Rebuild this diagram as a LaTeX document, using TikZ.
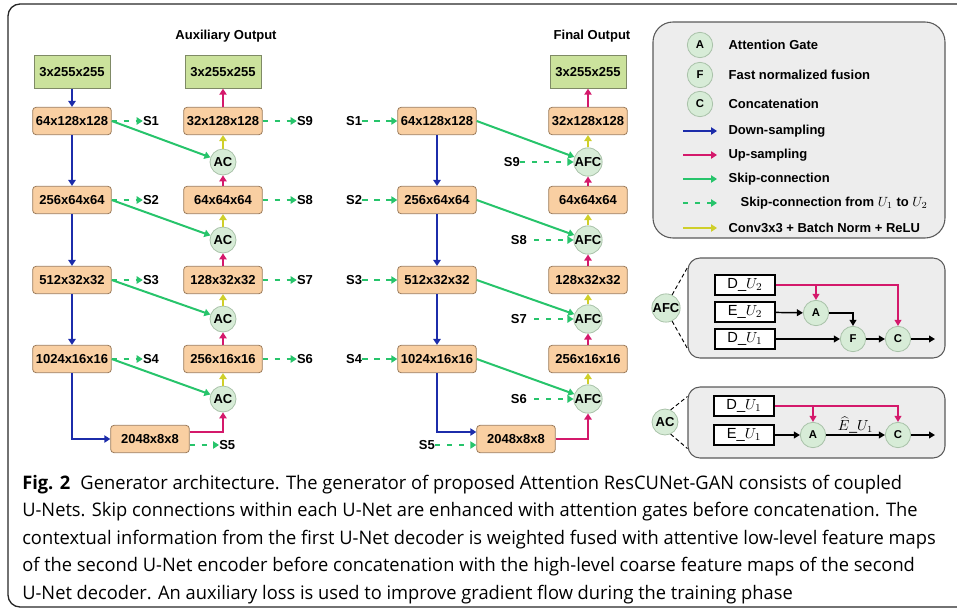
\documentclass[tikz,border=0pt]{standalone}
\usepackage{fontspec}
\setmainfont{Liberation Sans}
\newfontfamily\capfont[FakeStretch=0.98]{Open Sans}
\usetikzlibrary{arrows.meta,calc}

\definecolor{encfill}{HTML}{F9CFA2}
\definecolor{encline}{HTML}{9C7C5C}
\definecolor{imgfill}{HTML}{CBE29C}
\definecolor{imgline}{HTML}{7F8A66}
\definecolor{gatefill}{HTML}{D7ECD7}
\definecolor{gateline}{HTML}{A9C2A9}
\definecolor{downc}{HTML}{1C2CAA}
\definecolor{upc}{HTML}{D4196B}
\definecolor{skipc}{HTML}{27C46B}
\definecolor{convc}{HTML}{CFCF2A}
\definecolor{panelfill}{HTML}{EDEDED}
\definecolor{panelline}{HTML}{5A5A5A}

\tikzset{
  x=0.75pt, y=-0.75pt,
  lbl/.style={font=\bfseries\fontsize{9.75}{11}\selectfont, inner sep=1pt},
  encbox/.style={lbl, draw=encline, fill=encfill, rounded corners=2.5pt,
    minimum width=59pt, minimum height=20.5pt, inner sep=0pt, line width=0.6pt},
  imgbox/.style={lbl, draw=imgline, fill=imgfill,
    minimum width=57pt, minimum height=24.5pt, inner sep=0pt, line width=0.6pt},
  gate/.style={lbl, circle, draw=gateline, fill=gatefill, minimum size=19.5pt,
    inner sep=0pt, line width=0.6pt},
  pgate/.style={gate, font=\bfseries\fontsize{8.5}{10}\selectfont, minimum size=19pt},
  tipped/.style={-{Triangle[length=4.5pt,width=5.5pt]}},
  flow/.style={tipped, line width=1.5pt},
  dsamp/.style={flow, draw=downc},
  usamp/.style={flow, draw=upc},
  skipline/.style={flow, draw=skipc},
  xskipline/.style={skipline, dash pattern=on 4pt off 5pt},
  convline/.style={flow, draw=convc},
  slab/.style={lbl, inner sep=0pt},
  panel/.style={draw=panelline, fill=panelfill, rounded corners=9pt, line width=0.8pt},
  wbox/.style={draw=black, fill=white, minimum width=45pt, minimum height=15pt,
    inner sep=0pt, line width=0.8pt, font=\fontsize{11}{12}\selectfont},
  blk/.style={-{Triangle[length=4.5pt,width=5pt]}, line width=1.1pt},
  pup/.style={blk, draw=upc},
  zoomline/.style={densely dashed, line width=0.7pt},
  capline/.style={anchor=base west, inner sep=0pt, font=\capfont\fontsize{14}{17}\selectfont},
}

\begin{document}
\begin{tikzpicture}
\useasboundingbox (0,0) rectangle (957,611);

% outer frame
\draw[line width=1pt, draw=black!85, rounded corners=9pt]
  (957,4) -- (8,4) -- (8,607) -- (957,607);

% ---------- first U-Net ----------
\node[lbl] (title1) at (226,36) {Auxiliary Output};
\node[imgbox] (in)  at (72,72)   {3x255x255};
\node[encbox] (e1)  at (72,121)  {64x128x128};
\node[encbox] (e2)  at (72,200)  {256x64x64};
\node[encbox] (e3)  at (72,280)  {512x32x32};
\node[encbox] (e4)  at (72,359)  {1024x16x16};
\node[encbox] (b1)  at (150,439) {2048x8x8};

\node[imgbox] (out1) at (223,72) {3x255x255};
\node[encbox] (d1) at (223,121) {32x128x128};
\node[gate]   (g1) at (223,162) {AC};
\node[encbox] (d2) at (223,200) {64x64x64};
\node[gate]   (g2) at (223,240) {AC};
\node[encbox] (d3) at (223,280) {128x32x32};
\node[gate]   (g3) at (223,319) {AC};
\node[encbox] (d4) at (223,359) {256x16x16};
\node[gate]   (g4) at (223,399) {AC};

\draw[dsamp] (in) -- (e1);
\draw[dsamp] (e1) -- (e2);
\draw[dsamp] (e2) -- (e3);
\draw[dsamp] (e3) -- (e4);
\draw[dsamp] (e4.south) |- (b1.west);

\draw[usamp] ($(b1.east)+(0,-7)$) -| (g4.south);
\draw[usamp] (d4) -- (g3);
\draw[usamp] (d3) -- (g2);
\draw[usamp] (d2) -- (g1);
\draw[usamp] (d1) -- (out1);

\draw[convline] (g4) -- (d4);
\draw[convline] (g3) -- (d3);
\draw[convline] (g2) -- (d2);
\draw[convline] (g1) -- (d1);

\draw[skipline] (e1.east) -- (g1);
\draw[skipline] (e2.east) -- (g2);
\draw[skipline] (e3.east) -- (g3);
\draw[skipline] (e4.east) -- (g4);

% skip outputs handed to the second U-Net
\foreach \src/\nm/\lab in {e1/s1/S1, e2/s2/S2, e3/s3/S3, e4/s4/S4} {
  \node[slab, anchor=west] (\nm) at ($(\src.east)+(31,0)$) {\lab};
  \draw[xskipline] (\src.east) -- (\nm.west);
}
\foreach \src/\nm/\lab in {d1/s9/S9, d2/s8/S8, d3/s7/S7, d4/s6/S6} {
  \node[slab, anchor=west] (\nm) at ($(\src.east)+(34,0)$) {\lab};
  \draw[xskipline] (\src.east) -- (\nm.west);
}
\node[slab, anchor=west] (s5) at (219,445) {S5};
\draw[xskipline] (b1.east |- s5) -- (s5.west);

% ---------- second U-Net ----------
\node[lbl] (title2) at (592,36) {Final Output};
\node[encbox] (f1) at (437,121) {64x128x128};
\node[encbox] (f2) at (437,200) {256x64x64};
\node[encbox] (f3) at (437,280) {512x32x32};
\node[encbox] (f4) at (437,359) {1024x16x16};
\node[encbox] (b2) at (516,439) {2048x8x8};

\node[imgbox] (out2) at (588,72) {3x255x255};
\node[encbox] (c1) at (588,121) {32x128x128};
\node[gate]   (h1) at (588,162) {AFC};
\node[encbox] (c2) at (588,200) {64x64x64};
\node[gate]   (h2) at (588,240) {AFC};
\node[encbox] (c3) at (588,280) {128x32x32};
\node[gate]   (h3) at (588,319) {AFC};
\node[encbox] (c4) at (588,359) {256x16x16};
\node[gate]   (h4) at (588,399) {AFC};

\draw[dsamp] (f1) -- (f2);
\draw[dsamp] (f2) -- (f3);
\draw[dsamp] (f3) -- (f4);
\draw[dsamp] (f4.south) |- ($(b2.west)+(0,-7)$);

\draw[usamp] (b2.east) -| (h4.south);
\draw[usamp] (c4) -- (h3);
\draw[usamp] (c3) -- (h2);
\draw[usamp] (c2) -- (h1);
\draw[usamp] (c1) -- (out2);

\draw[convline] (h4) -- (c4);
\draw[convline] (h3) -- (c3);
\draw[convline] (h2) -- (c2);
\draw[convline] (h1) -- (c1);

\draw[skipline] (f1.east) -- (h1);
\draw[skipline] (f2.east) -- (h2);
\draw[skipline] (f3.east) -- (h3);
\draw[skipline] (f4.east) -- (h4);

\foreach \dst/\nm/\lab in {f1/t1/S1, f2/t2/S2, f3/t3/S3, f4/t4/S4} {
  \node[slab, anchor=east] (\nm) at ($(\dst.west)+(-35,0)$) {\lab};
  \draw[xskipline] (\nm.east) -- (\dst.west);
}
\node[slab, anchor=east] (t9) at (520,162) {S9};
\draw[xskipline] (t9.east) -- (h1);
\foreach \dst/\nm/\lab in {h2/t8/S8, h3/t7/S7, h4/t6/S6} {
  \node[slab, anchor=east] (\nm) at ($(\dst)+(-61,0)$) {\lab};
  \draw[xskipline] ($(\nm.east)+(7,0)$) -- (\dst);
}
\node[slab, anchor=east] (t5) at (435,445) {S5};
\draw[xskipline] (t5.east) -- (b2.west |- t5);

% ---------- legend ----------
\node[panel, rounded corners=15pt, minimum width=219pt, minimum height=162pt] (legend) at (799,130) {};
\node[pgate] (la) at (700,45)  {A};
\node[pgate] (lf) at (700,75)  {F};
\node[pgate] (lc) at (700,104) {C};
\node[lbl, anchor=west] (lta) at (727,45)  {Attention Gate};
\node[lbl, anchor=west] (ltf) at (727,75)  {Fast normalized fusion};
\node[lbl, anchor=west] (ltc) at (727,104) {Concatenation};
\foreach \yy/\st/\nm/\txt/\xt in {131/dsamp/d/Down-sampling/727, 155/usamp/u/Up-sampling/727,
    179/skipline/s/Skip-connection/727,
    203/xskipline/x/{Skip-connection from $U_1$ to $U_2$}/739,
    228/convline/c/{Conv3x3 + Batch Norm + ReLU}/727} {
  \coordinate (k\nm0) at (683,\yy);
  \coordinate (k\nm1) at (717,\yy);
  \draw[\st] (k\nm0) -- (k\nm1);
  \node[lbl, anchor=west] (kt\nm) at (\xt,\yy) {\txt};
}

% ---------- AFC block ----------
\node[panel, minimum width=192.75pt, minimum height=75pt] (afcp) at (816.5,308) {};
\node[gate] (afcg) at (666,308) {AFC};
\draw[zoomline] (afcg.65) -- ($(afcp.north west)+(0,10)$);
\draw[zoomline] (afcg.-65) -- ($(afcp.south west)+(0,-10)$);
\node[wbox] (pd2) at (745,285) {D\_$U_2$};
\node[wbox] (pe2) at (745,312) {E\_$U_2$};
\node[wbox] (pd1) at (745,339) {D\_$U_1$};
\node[pgate] (pa) at (816,313) {A};
\node[pgate] (pf) at (853,339) {F};
\node[pgate] (pc) at (898,339) {C};
\coordinate (pout) at (935,339);
\draw[pup] (pd2.east) -| (pc.north);
\draw[pup] (pa.north |- pd2.east) -- (pa.north);
\draw[blk] (pe2) -- (pa);
\draw[blk] (pa.east) -| (pf.north);
\draw[blk] (pd1) -- (pf);
\draw[blk] (pf) -- (pc);
\draw[blk] (pc) -- (pout);

% ---------- AC block ----------
\node[panel, minimum width=192.75pt, minimum height=53.25pt] (acp) at (816.5,422.5) {};
\node[gate] (acg) at (665,422) {AC};
\draw[zoomline] (acg.65) -- ($(acp.north west)+(0,10)$);
\draw[zoomline] (acg.-65) -- ($(acp.south west)+(0,-10)$);
\node[wbox] (qd1) at (744,406) {D\_$U_1$};
\node[wbox] (qe1) at (744,435) {E\_$U_1$};
\node[pgate] (qa) at (813,435) {A};
\node[pgate] (qc) at (898,435) {C};
\coordinate (qout) at (935,435);
\draw[pup] (qd1.east) -| (qc.north);
\draw[pup] (qa.north |- qd1.east) -- (qa.north);
\draw[blk] (qe1) -- (qa);
\draw[blk] (qa) -- (qc);
\draw[blk] (qc) -- (qout);
\node[font=\fontsize{10.5}{11}\selectfont, inner sep=0.5pt, anchor=south] (ehat)
  at ($(qa.east)!0.5!(qc.west)+(0,-1)$) {$\widehat{E}$\_$U_1$};

% ---------- caption ----------
\node[capline] (cap1) at (22,489)
  {\textbf{Fig. 2}\hspace{0.55em}Generator architecture. The generator of proposed Attention ResCUNet-GAN consists of coupled};
\node[capline] (cap2) at (22,516.5)
  {U-Nets. Skip connections within each U-Net are enhanced with attention gates before concatenation. The};
\node[capline] (cap3) at (22,544)
  {contextual information from the first U-Net decoder is weighted fused with attentive low-level feature maps};
\node[capline] (cap4) at (22,571.5)
  {of the second U-Net encoder before concatenation with the high-level coarse feature maps of the second};
\node[capline] (cap5) at (22,599)
  {U-Net decoder. An auxiliary loss is used to improve gradient flow during the training phase};
\end{tikzpicture}
\end{document}
